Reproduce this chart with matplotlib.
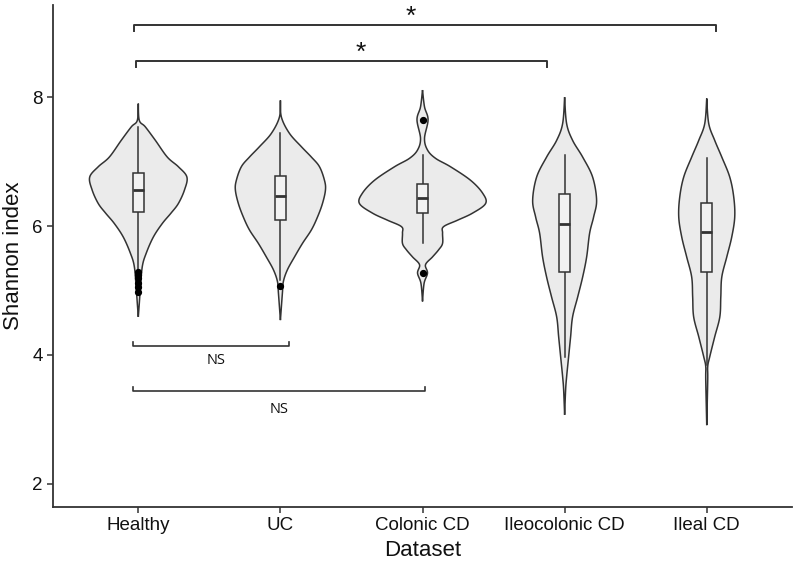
import numpy as np
import matplotlib
matplotlib.use("Agg")
import matplotlib.pyplot as plt

plt.rcParams['font.family'] = ['Liberation Sans', 'DejaVu Sans']

# ---------------- data ----------------
categories = ["Healthy", "UC", "Colonic CD", "Ileocolonic CD", "Ileal CD"]

# violin outlines: y values and half-widths (in category units)
healthy_y = [7.90, 7.64, 7.54, 7.33, 7.07, 6.92, 6.76, 6.56, 6.35, 6.20, 6.04, 5.83, 5.58, 5.37, 5.01, 4.80, 4.59]
healthy_w = [0.000, 0.007, 0.049, 0.120, 0.204, 0.282, 0.342, 0.325, 0.282, 0.230, 0.169, 0.106, 0.056, 0.028, 0.014, 0.007, 0.000]

uc_y = [7.95, 7.69, 7.44, 7.23, 7.07, 6.92, 6.71, 6.56, 6.35, 6.14, 5.94, 5.73, 5.52, 5.32, 5.14, 4.96, 4.54]
uc_w = [0.000, 0.007, 0.063, 0.148, 0.218, 0.275, 0.310, 0.317, 0.296, 0.261, 0.218, 0.155, 0.099, 0.049, 0.021, 0.014, 0.000]

colonic_y = [8.11, 7.85, 7.65, 7.36, 7.18, 7.05, 6.92, 6.71, 6.51, 6.35, 6.20, 6.09, 5.99, 5.89, 5.73, 5.63, 5.52, 5.40, 5.27, 5.11, 4.83]
colonic_w = [0.000, 0.014, 0.039, 0.014, 0.035, 0.092, 0.197, 0.338, 0.423, 0.444, 0.352, 0.246, 0.148, 0.141, 0.141, 0.113, 0.070, 0.021, 0.035, 0.011, 0.000]

ileocolonic_y = [8.00, 7.59, 7.33, 7.07, 6.76, 6.40, 6.14, 5.89, 5.52, 5.21, 4.90, 4.59, 4.28, 3.97, 3.66, 3.46, 3.07]
ileocolonic_w = [0.000, 0.014, 0.056, 0.127, 0.197, 0.225, 0.204, 0.176, 0.155, 0.127, 0.092, 0.056, 0.042, 0.028, 0.014, 0.007, 0.000]

ileal_y = [7.98, 7.59, 7.33, 7.07, 6.76, 6.45, 6.14, 5.83, 5.52, 5.21, 4.90, 4.59, 4.28, 3.97, 3.82, 3.61, 2.91]
ileal_w = [0.000, 0.014, 0.056, 0.106, 0.162, 0.190, 0.197, 0.176, 0.141, 0.106, 0.099, 0.092, 0.056, 0.021, 0.007, 0.007, 0.000]

violin_y = [healthy_y, uc_y, colonic_y, ileocolonic_y, ileal_y]
violin_w = [healthy_w, uc_w, colonic_w, ileocolonic_w, ileal_w]

# box statistics
whisker_low = [5.32, 5.16, 5.73, 3.97, 3.84]
q1 = [6.22, 6.10, 6.21, 5.29, 5.29]
median = [6.56, 6.47, 6.43, 6.03, 5.90]
q3 = [6.83, 6.78, 6.65, 6.49, 6.36]
whisker_high = [7.54, 7.45, 7.10, 7.10, 7.05]
outliers = [[5.29, 5.24, 5.19, 5.11, 5.06, 4.97], [5.07], [7.65, 5.27], [], []]

# significance annotations: (x1, x2, y, label, text_x, text_y)
brackets_top = [(0.973, 5.065, 9.12, "*", 2.917, 9.25),
                (0.987, 3.876, 8.56, "*", 2.565, 8.69)]
brackets_bottom = [(0.966, 2.058, 4.14, "NS", 1.544, 3.92),
                   (0.966, 3.015, 3.44, "NS", 1.994, 3.16)]

yticks = [2, 4, 6, 8]

# ---------------- drawing ----------------
EDGE = "#333333"
FILL = "#ebebeb"


def catmull(ys, ws, n=12):
    ys = np.asarray(ys, float)
    ws = np.asarray(ws, float)
    P = np.column_stack([ys, ws])
    P = np.vstack([P[0], P, P[-1]])
    out = []
    for i in range(1, len(P) - 2):
        p0, p1, p2, p3 = P[i - 1], P[i], P[i + 1], P[i + 2]
        for t in np.linspace(0, 1, n, endpoint=False):
            t2, t3 = t * t, t * t * t
            pt = 0.5 * ((2 * p1) + (-p0 + p2) * t + (2 * p0 - 5 * p1 + 4 * p2 - p3) * t2
                        + (-p0 + 3 * p1 - 3 * p2 + p3) * t3)
            out.append(pt)
    out.append(P[-2])
    out = np.array(out)
    out[:, 1] = np.clip(out[:, 1], 0, None)
    return out[:, 0], out[:, 1]


fig = plt.figure(figsize=(8, 5.67), dpi=100)
ax = fig.add_axes([0.0663, 0.1058, 0.9237, 0.8854])

for i, cat in enumerate(categories):
    xc = i + 1
    yy, ww = catmull(violin_y[i], violin_w[i])
    xs = np.concatenate([xc - ww, (xc + ww)[::-1]])
    ys = np.concatenate([yy, yy[::-1]])
    ax.fill(xs, ys, facecolor=FILL, edgecolor=EDGE, linewidth=1.1, zorder=2)

    bw = 0.039
    ax.plot([xc, xc], [whisker_low[i], q1[i]], color=EDGE, lw=1.1, zorder=3)
    ax.plot([xc, xc], [q3[i], whisker_high[i]], color=EDGE, lw=1.1, zorder=3)
    ax.add_patch(plt.Rectangle((xc - bw, q1[i]), 2 * bw, q3[i] - q1[i],
                               facecolor="#f2f2f2", edgecolor=EDGE, lw=1.1, zorder=3))
    ax.plot([xc - bw, xc + bw], [median[i], median[i]], color=EDGE, lw=2.0, zorder=4,
            solid_capstyle="butt")
    if outliers[i]:
        ax.plot([xc] * len(outliers[i]), outliers[i], 'o', color="black", ms=4.2, zorder=5)

for x1, x2, y, lab, tx, ty in brackets_top:
    ax.plot([x1, x1, x2, x2], [y - 0.09, y, y, y - 0.09], color="#333333", lw=1.4,
            zorder=3, clip_on=False)
    ax.text(tx, ty, lab, ha="center", va="center", fontsize=19, color="#111111")

for x1, x2, y, lab, tx, ty in brackets_bottom:
    ax.plot([x1, x1, x2, x2], [y + 0.06, y, y, y + 0.06], color="#333333", lw=1.2, zorder=3)
    ax.text(tx, ty, lab, ha="center", va="center", fontsize=10.5, color="#111111",
            family=["Open Sans", "DejaVu Sans"])

ax.set_xlim(0.4, 5.6)
ax.set_ylim(1.64, 9.43)
ax.set_xticks(range(1, len(categories) + 1))
ax.set_xticklabels(categories)
ax.set_yticks(yticks)
ax.tick_params(axis="both", direction="out", length=4, width=1.1, color="#333333",
               labelsize=13.5, labelcolor="#111111")
for s in ["top", "right"]:
    ax.spines[s].set_visible(False)
for s in ["left", "bottom"]:
    ax.spines[s].set_color("#333333")
    ax.spines[s].set_linewidth(1.3)

ax.set_xlabel("Dataset", fontsize=16, color="#111111", labelpad=4)
ax.set_ylabel("Shannon index", fontsize=16, color="#111111", labelpad=6)

fig.savefig("out.png", dpi=100)
